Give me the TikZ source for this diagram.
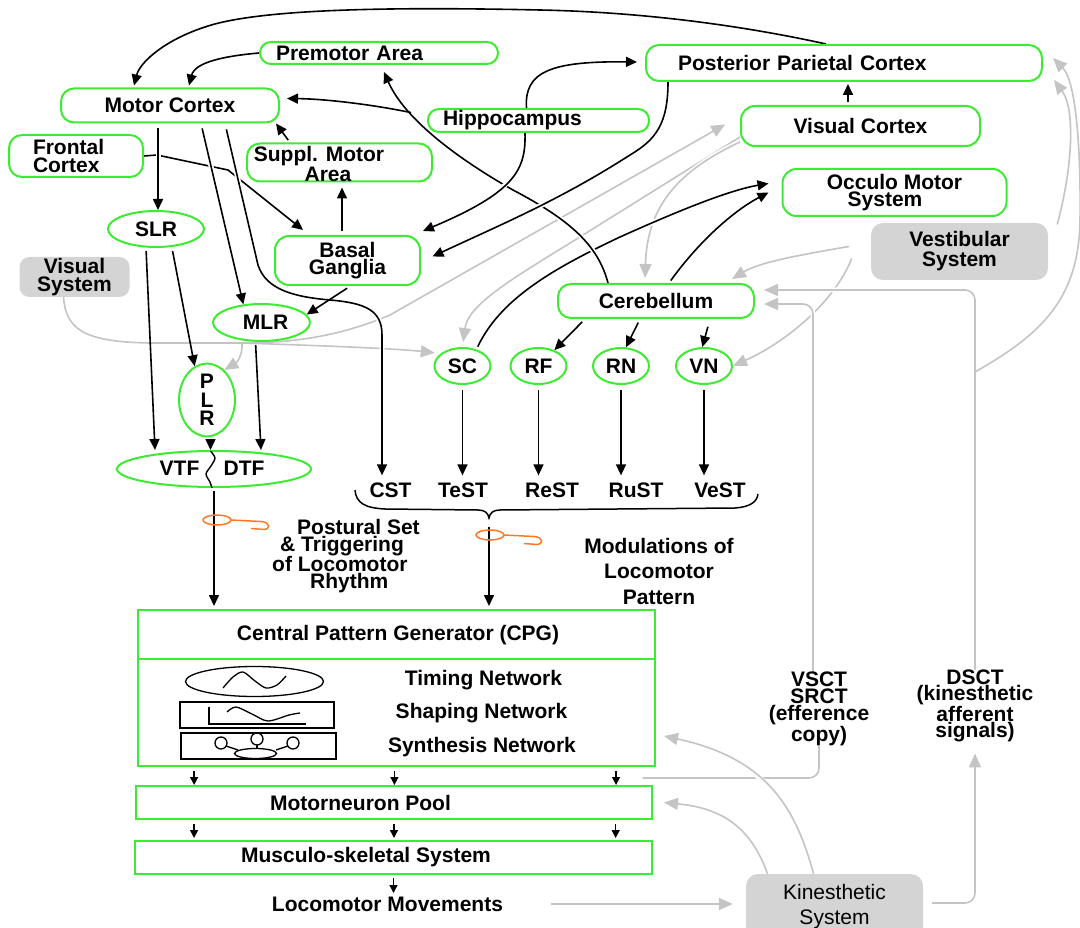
\documentclass[tikz,border=0pt]{standalone}
\usepackage{fontspec}
\setmainfont{Liberation Sans}
\usetikzlibrary{arrows.meta,shapes.geometric,calc}
\definecolor{ngreen}{RGB}{60,235,50}
\definecolor{lgray}{RGB}{196,196,196}
\definecolor{bgray}{RGB}{212,212,212}
\definecolor{sorange}{RGB}{255,120,40}
\newcommand\bft[1]{\bfseries\fontsize{21}{#1}\selectfont}
\pgfdeclarelayer{back}
\pgfsetlayers{back,main}
\begin{document}
\begin{tikzpicture}[x=1pt,y=-1pt,
  txt/.style={font=\bft{18},align=center,inner sep=0pt},
  gbox/.style={draw=ngreen,line width=2pt,fill=white,rounded corners=11pt,inner sep=0pt,align=center,font=\bft{18}},
  gell/.style={ellipse,draw=ngreen,line width=2pt,fill=white,inner sep=0pt,align=center,font=\bft{18}},
  graybox/.style={fill=bgray,rounded corners=10pt,inner sep=0pt,align=center,font=\bft{18}},
  rbox/.style={draw=ngreen,line width=2pt,fill=white,inner sep=0pt},
  arr/.style={line width=1.6pt,-{Triangle[length=11pt,width=10pt]}},
  sarr/.style={line width=1.4pt,-{Triangle[length=8pt,width=8pt]}},
  garr/.style={draw=lgray,line width=1.6pt,-{Triangle[length=14pt,width=12pt]}},
  gline/.style={draw=lgray,line width=1.6pt},
  halo/.style={preaction={draw=white,line width=5pt,arrows=-}},
  icon/.style={line width=1.3pt},
  squig/.style={draw=sorange,line width=1.5pt},
]
\useasboundingbox (0,0) rectangle (1080,928);

% ---------- nodes ----------
\node[gbox,minimum width=238pt,minimum height=22pt,text width=206pt,align=left,inner xsep=16pt] (pm) at (379,53) {Premotor Area};
\node[gbox,minimum width=218pt,minimum height=34pt,rounded corners=13pt] (mc) at (170,105.5) {Motor Cortex};
\node[gbox,minimum width=134pt,minimum height=42pt,text width=86pt,align=left,inner xsep=24pt,rounded corners=13pt] (fc) at (76,156) {Frontal\\Cortex};
\node[gbox,minimum width=185pt,minimum height=38pt,rounded corners=13pt,
  label={[txt,font=\bft{15},xshift=-20.5pt,yshift=-1.5pt]center:Suppl. Motor\\\hspace*{18pt}Area}] (sma) at (339.5,162.5) {};
\node[gbox,minimum width=221pt,minimum height=23pt,text width=191pt,align=left,inner xsep=15pt] (hip) at (538.5,120.5) {Hippocampus};
\node[gbox,minimum width=396pt,minimum height=36pt,text width=332pt,align=left,inner xsep=32pt,rounded corners=13pt] (ppc) at (844,63) {Posterior Parietal Cortex};
\node[gbox,minimum width=239pt,minimum height=40pt,rounded corners=14pt] (vc) at (860.5,126) {Visual Cortex};
\node[gbox,minimum width=224pt,minimum height=47pt,rounded corners=14pt,font=\bft{17}] (om) at (894.5,192.5) {Occulo Motor\\System\hspace*{19pt}};
\node[graybox,minimum width=177pt,minimum height=57pt,rounded corners=12pt,font=\bft{20}] (vestib) at (959.5,251.5) {Vestibular\\System};
\node[gbox,minimum width=145pt,minimum height=49pt,rounded corners=14pt,font=\bft{17}] (bg) at (347.5,260.5) {Basal\\Ganglia};
\node[gell,minimum width=96pt,minimum height=36pt] (slr) at (156,229) {SLR};
\node[graybox,minimum width=110pt,minimum height=40pt,rounded corners=10pt] (vs) at (74.5,277) {Visual\\System};
\node[gell,minimum width=97pt,minimum height=37pt] (mlr) at (261.5,322.5) {\hspace*{8pt}MLR};
\node[gell,minimum width=56pt,minimum height=62pt,font=\bft{18.5}] (plr) at (207,400) {P\\L\\R};
\node[gell,minimum width=194pt,minimum height=36pt] (vtf) at (214,469) {};
\node[txt] (vtfl) at (179.5,468) {VTF};
\node[txt] (dtfl) at (244,468) {DTF};
\node[gbox,minimum width=196pt,minimum height=34pt,rounded corners=13pt] (cb) at (656,301) {Cerebellum};
\node[gell,minimum width=56pt,minimum height=36pt] (sc) at (462.5,366) {SC};
\node[gell,minimum width=56pt,minimum height=36pt] (rf) at (538.5,366) {RF};
\node[gell,minimum width=56pt,minimum height=36pt] (rn) at (621,366) {RN};
\node[gell,minimum width=56pt,minimum height=36pt] (vn) at (704,366) {VN};
\node[txt,inner ysep=7pt] (cst) at (390.5,490) {CST};
\node[txt,inner ysep=7pt] (test) at (463,490) {TeST};
\node[txt,inner ysep=7pt] (rest) at (552,490) {ReST};
\node[txt,inner ysep=7pt] (rust) at (636,490) {RuST};
\node[txt,inner ysep=7pt] (vest2) at (720,490) {VeST};
\node[txt,font=\bft{16.5},align=left,anchor=west] (pst) at (272,556) {\hspace*{25pt}Postural Set\\\hspace*{8pt}\& Triggering\\of Locomotor\\\hspace*{38pt}Rhythm};
\node[txt,font=\bft{25.5}] (mod) at (659,571) {Modulations of\\Locomotor\\Pattern};

\node[rbox,minimum width=517pt,minimum height=156pt] (cpg) at (396,688) {};
\node[txt] (cpgt) at (398,635.5) {Central Pattern Generator (CPG)};
\node[txt] (tim) at (483.5,680.5) {Timing Network};
\node[txt] (shp) at (481.5,713.5) {Shaping Network};
\node[txt] (syn) at (482,747.5) {Synthesis Network};
\node[rbox,minimum width=516pt,minimum height=33pt,label={[txt,xshift=-33.5pt]center:Motorneuron Pool}] (mnp) at (394,802.5) {};
\node[rbox,minimum width=517pt,minimum height=33pt,label={[txt,xshift=-27.5pt]center:Musculo-skeletal System}] (mss) at (393.5,857.5) {};
\node[txt] (lm) at (387.5,904) {Locomotor Movements};
\node[graybox,minimum width=177pt,minimum height=66pt,rounded corners=12pt,font=\fontsize{21}{25}\selectfont] (kin) at (834.5,907) {Kinesthetic\\System};
\node[txt,font=\bft{17}] (vsct) at (819,709) {VSCT\\SRCT\\(efference\\copy)};
\node[txt,font=\bft{15}] (dsct) at (975,706) {DSCT\\(kinesthetic\\afferent\\signals)};

\coordinate (g1a) at (242,343);
\coordinate (cbr) at (411,112.6);
\coordinate (cstb) at (382,335);
\coordinate (dsb) at (975,372);
\coordinate (btip) at (489,518);

% ---------- connectors ----------
\begin{pgfonlayer}{back}
% gray
\draw[garr,halo,shorten >=17pt] ([xshift=-11pt]vs.south) .. controls (66,330) and (85,342) .. (150,343) -- (g1a) .. controls (300,343) and (345,334) .. (390,315) -- ([yshift=10pt]vc.west);
\draw[garr] (g1a) .. controls (243,356) and (236,363) .. (plr.60);
\draw[garr,shorten >=6pt] (g1a) .. controls (300,345) and (390,348) .. (sc.150);
\draw[garr,halo,shorten >=5pt] ([yshift=-11pt]vc.west) -- (575,240) .. controls (510,280) and (468,305) .. (sc.north);
\draw[garr,halo,shorten >=5pt] ([yshift=-16pt]vc.west) .. controls (680,170) and (647,205) .. ([xshift=-11pt]cb.north);
\draw[garr,halo] ([xshift=-22pt,yshift=5pt]vestib.west) .. controls (800,255) and (760,262) .. ([xshift=-23pt,yshift=4pt]cb.north east);
\draw[garr,halo] ([xshift=-19pt,yshift=-7pt]vestib.west) .. controls (835,300) and (790,340) .. (vn.east);
\draw[garr,halo] ([xshift=9pt,yshift=27pt]vestib.east) .. controls (1072,170) and (1076,110) .. ([xshift=11pt,yshift=-17pt]ppc.east);
\draw[gline,rounded corners=10pt] ([xshift=-13pt,yshift=-11pt]cpg.south east) -| (vsct.south);
\draw[garr,halo,rounded corners=10pt,shorten >=9pt] ([xshift=-6pt]vsct.north) |- ([yshift=-3pt]cb.east);
\draw[garr,rounded corners=10pt,shorten >=11pt] ([xshift=9pt,yshift=4pt]kin.east) -| (dsct.south);
\draw[garr,halo,rounded corners=10pt,shorten >=9pt] (dsct.north) |- ([yshift=11pt]cb.east);
\draw[garr] (dsb) .. controls (1040,335) and (1079,300) .. (1080,220) .. controls (1081,140) and (1075,80) .. ([xshift=10pt,yshift=5pt]ppc.east);
\draw[garr,halo] ([xshift=-21pt]kin.north) .. controls (795,805) and (765,758) .. ([xshift=8.5pt,yshift=31pt]cpg.south east);
\draw[garr] ([xshift=-67pt]kin.north) .. controls (750,825) and (720,808) .. ([xshift=11pt]mnp.east);
\draw[garr,shorten <=48pt,shorten >=13pt] (lm.east) -- (lm.east -| kin.west);

% black
\draw[arr,halo,shorten <=3pt] (sc.50) .. controls (500,300) and (550,270) .. (620,237) .. controls (680,210) and (730,190) .. ([xshift=-13pt,yshift=9pt]om.west);
\draw[arr,halo,shorten <=3pt] ([xshift=13pt]cb.north) .. controls (700,240) and (735,210) .. ([xshift=-13pt]om.west);
\draw[arr] (fc.east) -- (157,155) -- (228,170) -- ([xshift=29pt,yshift=5pt]bg.north west);
\draw[arr,halo] ([xshift=-48pt]cb.north) .. controls (598,245) and (570,220) .. (513,190) .. controls (460,160) and (405,120) .. ([xshift=5pt,yshift=-7pt]pm.south);
\draw[arr] (cbr) .. controls (380,106) and (330,99) .. ([xshift=7pt,yshift=7pt]mc.east);
\draw[arr,halo,shorten <=5pt] ([xshift=-12pt]mc.south) -- ([xshift=2pt]slr.north);
\draw[arr,halo,shorten <=5pt] ([xshift=31pt]mc.south) -- (mlr.135);
\draw[arr,halo,shorten <=6pt] ([xshift=55pt]mc.south) -- (258,265) .. controls (266,290) and (295,297) .. (330,300) .. controls (365,303) and (382,310) .. (cstb) -- (cst.north -| cstb);
\draw[arr,halo] ([xshift=-13.5pt]hip.south) .. controls (526,170) and (515,192) .. ([xshift=2pt,yshift=4pt]bg.north east);
\draw[arr,halo] ([xshift=-12pt]hip.north) .. controls (524,72) and (550,61) .. ([xshift=-8pt,yshift=1pt]ppc.west);
\draw[arr,halo] ([xshift=-176pt]ppc.south) .. controls (668,125) and (655,140) .. (630,155) .. controls (560,200) and (500,225) .. ([xshift=11.5pt,yshift=4pt]bg.east);
\draw[arr,shorten <=4pt,shorten >=5pt] ([xshift=-5.5pt]bg.north) -- ([xshift=2.5pt]sma.south);
\draw[arr,shorten <=3pt] ([xshift=44pt]sma.north west) -- ([xshift=-4pt]mc.south east);
\draw[arr,shorten <=4pt] ([xshift=3pt]bg.south) -- (mlr.10);
\draw[arr,shorten <=4pt] ([xshift=-71pt]cb.south) -- (rf.45);
\draw[arr,shorten <=4pt] ([xshift=-16pt]cb.south) -- (rn.75);
\draw[arr,shorten <=8pt] ([xshift=54pt]cb.south) -- (vn.95);
\draw[arr,shorten <=3pt] ([xshift=-10pt]slr.south) -- ([xshift=-59pt]vtf.north);
\draw[arr,shorten <=3pt] ([xshift=16pt]slr.south) -- (plr.110);
\draw[arr,shorten <=3pt] ([xshift=-6pt]mlr.south) -- ([xshift=47pt]vtf.north);
\draw[arr,shorten <=3pt] ([xshift=3.5pt]plr.south) -- ([xshift=-3.5pt]vtf.north);
\draw[arr,shorten <=5pt] (sc.south) -- (sc.south |- test.north);
\draw[arr,shorten <=5pt] (rf.south) -- (rf.south |- rest.north);
\draw[arr,shorten <=5pt] (rn.south) -- (rn.south |- rust.north);
\draw[arr,shorten <=5pt] (vn.south) -- (vn.south |- vest2.north);
\draw[arr,shorten <=3pt,shorten >=3pt] (vtf.south) -- (vtf.south |- cpg.north);
\draw[arr,shorten <=9pt,shorten >=3pt] (btip) -- (btip |- cpg.north);
\draw[arr,shorten <=3pt,shorten >=2pt] ([xshift=-12.5pt]vc.north) -- ([xshift=4pt]ppc.south);
\draw[arr,halo] ([xshift=-18pt]ppc.north) .. controls (740,25) and (640,12) .. (540,10) .. controls (400,7) and (260,8) .. (205,27) .. controls (165,40) and (140,62) .. ([xshift=-36pt,yshift=2pt]mc.north);
\draw[arr] (pm.west) .. controls (225,56) and (195,62) .. ([xshift=19pt,yshift=2pt]mc.north);
\end{pgfonlayer}

% small arrows between the lower boxes
\foreach \f in {0.111,0.497,0.924} {\draw[sarr] ($(cpg.south west)!\f!(cpg.south east)$) ++(0,4) -- ++(0,14);}
\foreach \f in {0.114,0.5,0.928} {\draw[sarr] ($(mnp.south west)!\f!(mnp.south east)$) ++(0,4) -- ++(0,14);}
\draw[sarr] (mss.south) ++(0,3) -- ++(0,15);

% CPG divider
\draw[draw=ngreen,line width=2pt] ([yshift=-50pt]cpg.north west) -- ([yshift=-50pt]cpg.north east);

% wavy split in VTF/DTF
\draw[line width=1.4pt] plot[smooth] coordinates {(210.5,451) (215,458) (211,466) (206,474) (210,482) (212,488)};

% brace
\draw[line width=1.5pt] (355,490) .. controls (356,503) and (365,508) .. (385,509) -- (478,510) .. controls (485,510) and (488,513) .. (btip) .. controls (490,513) and (493,510) .. (500,510) -- (735,508) .. controls (750,507) and (757,502) .. (758,494);

% orange squiggles
\begin{scope}[shift={(217,520)}]
\draw[squig] (0,0) ellipse [x radius=14pt, y radius=5pt];
\draw[squig] (14,0) -- (44,1.5) .. controls (53,2) and (54,9) .. (47,9.5) -- (34,8.5);
\end{scope}
\begin{scope}[shift={(490,535)}]
\draw[squig] (0,0) ellipse [x radius=14pt, y radius=5pt];
\draw[squig] (14,0) -- (44,1.5) .. controls (53,2) and (54,9) .. (47,9.5) -- (34,8.5);
\end{scope}

% CPG icons
\draw[icon] (254.5,681.5) ellipse [x radius=69pt, y radius=15pt];
\draw[icon] plot[smooth] coordinates {(223,688) (233,677) (243,672) (255,681) (266,688) (277,685) (286,676)};
\draw[icon] (180,702) rectangle (334,728);
\draw[icon] (209,707) -- (209,724) -- (306,724);
\draw[icon] plot[smooth] coordinates {(227,712) (236,707) (252,714) (268,721) (289,715) (300,713)};
\draw[icon] (181,733) rectangle (336,759);
\draw[icon] (221,743) circle [radius=6pt];
\draw[icon] (257,739) circle [radius=6pt];
\draw[icon] (293,743) circle [radius=6pt];
\draw[icon] (255.5,753.5) ellipse [x radius=21pt, y radius=5pt];
\draw[icon] (226,746) -- (238,750);
\draw[icon] (257,745) -- (257,748.5);
\draw[icon] (288,746) -- (276,750);
\end{tikzpicture}
\end{document}
